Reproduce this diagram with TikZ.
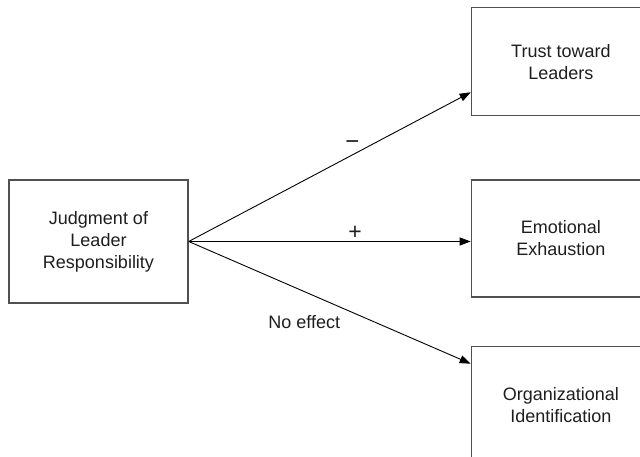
\documentclass[tikz,border=0pt]{standalone}
\usepackage{fontspec}
\setmainfont{Liberation Sans}
\usetikzlibrary{positioning, arrows.meta}
\definecolor{BoxGray}{RGB}{80, 80, 80}
\definecolor{InkGray}{RGB}{30, 30, 30}

\begin{document}
\begin{tikzpicture}[
        x=1pt, y=1pt,
        box/.style={
            rectangle,
            draw=BoxGray,
            line width=1.4pt,
            align=center,
            minimum width=179pt,
            minimum height=117pt,
            text=InkGray,
            font=\fontsize{18}{22}\selectfont
        },
        arrow/.style={-{Triangle[length=11pt, width=8pt]}, line width=0.9pt, black},
        sign/.style={text=InkGray, font=\fontsize{18}{22}\selectfont}
    ]
    \useasboundingbox (0,0) rectangle (640,457);

    % Antecedente
    \node[box, minimum height=123pt] (judgment) at (98.5,215.5) {Judgment of\\Leader\\Responsibility};

    % Resultados
    \node[box, right=282pt of judgment, yshift=3pt] (exhaustion) {Emotional\\Exhaustion};
    \node[box, minimum height=108pt, above=63pt of exhaustion] (trust) {Trust toward\\Leaders};
    \node[box, below=48pt of exhaustion] (identification) {Organizational\\Identification};

    % Flechas
    \draw[arrow] (judgment.east) -- node[sign, font=\fontsize{24}{28}\selectfont, pos=.58, yshift=10pt]{−} ([yshift=24pt]trust.south west);
    \draw[arrow] (judgment.east) -- node[sign, font=\fontsize{23}{27}\selectfont, pos=.59, yshift=9pt]{+} (judgment.east -| exhaustion.west);
    \draw[arrow] (judgment.east) -- node[sign, pos=.41, yshift=-30.5pt]{No effect} ([yshift=-18pt]identification.north west);

\end{tikzpicture}
\end{document}
